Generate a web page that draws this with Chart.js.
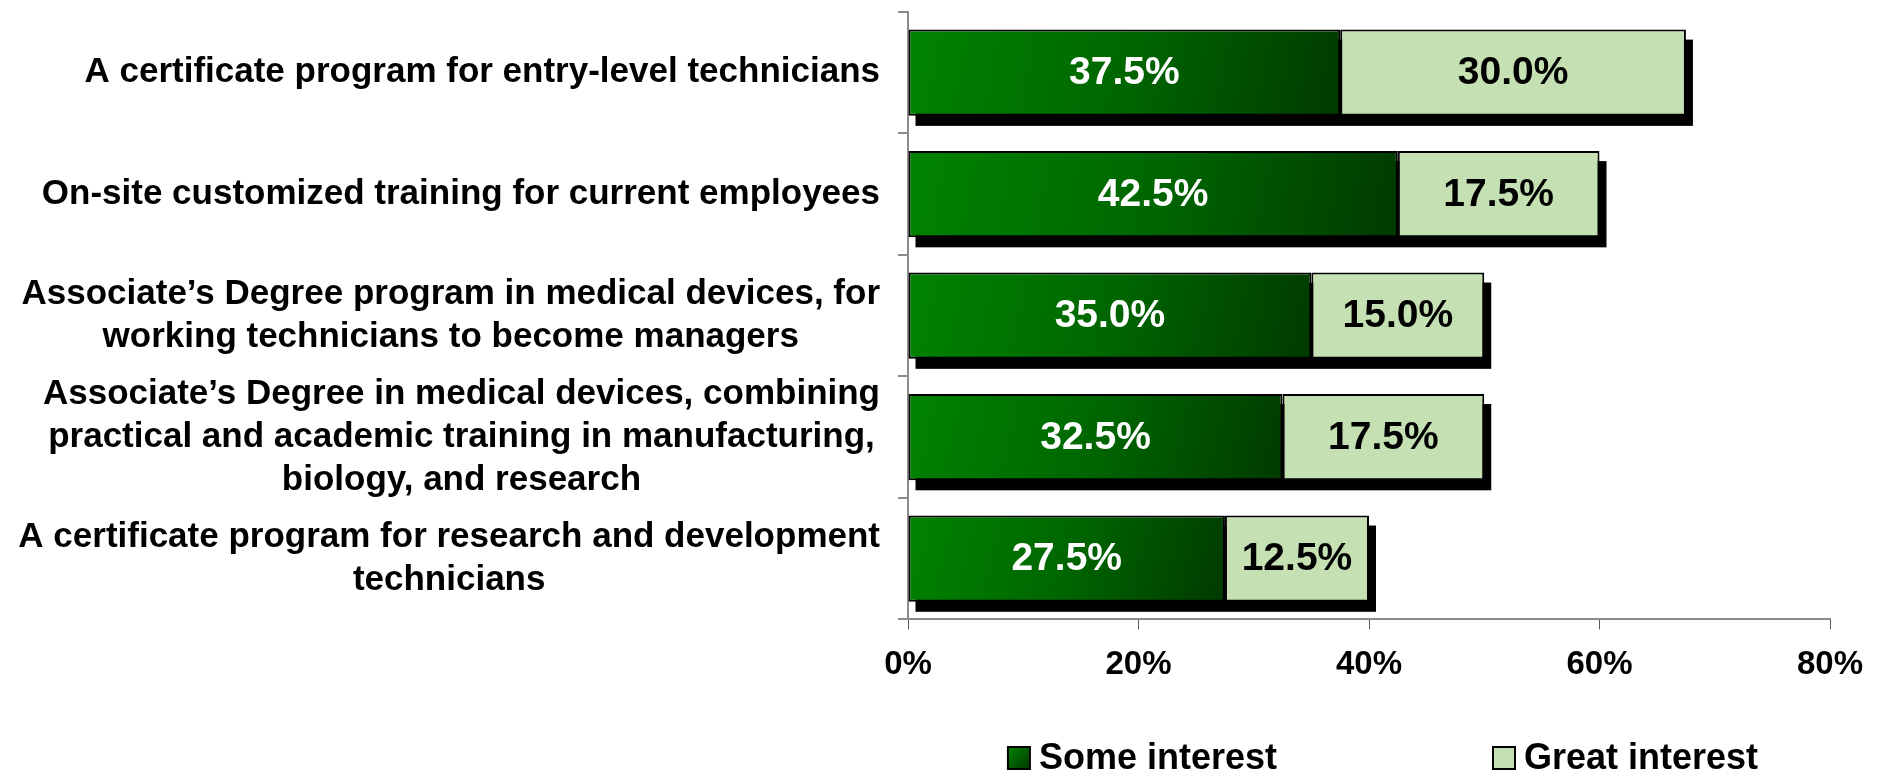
<!DOCTYPE html>
<html>
<head>
<meta charset="utf-8">
<script src="https://cdn.jsdelivr.net/npm/chart.js@4.4.1/dist/chart.umd.min.js"></script>
<style>
  html, body { margin: 0; padding: 0; background: #fff; }
  #wrap { width: 1881px; height: 775px; }
</style>
</head>
<body>
<div id="wrap"><canvas id="chart" width="1881" height="775"></canvas></div>
<script>
const categories = [
    ['A certificate program for entry-level technicians'],
    ['On-site customized training for current employees'],
    ['Associate’s Degree program in medical devices, for', 'working technicians to become managers'],
    ['Associate’s Degree in medical devices, combining', 'practical and academic training in manufacturing,', 'biology, and research'],
    ['A certificate program for research and development', 'technicians']
];
const seriesNames = ['Some interest', 'Great interest'];
const someInterest = [37.5, 42.5, 35.0, 32.5, 27.5];
const greatInterest = [30.0, 17.5, 15.0, 17.5, 12.5];
const xTicks = [0, 20, 40, 60, 80];

const FONT = "'Liberation Sans', Arial, sans-serif";
const LIGHT_GREEN = '#c5e0b2';

// dark green bars fade from green at top-left to almost black-green at bottom-right
function darkGreen(c) {
    const chart = c.chart;
    if (!chart.chartArea || c.type !== 'data') return '#006000';
    const xs = chart.scales.x, ys = chart.scales.y;
    const x0 = xs.getPixelForValue(0);
    const x1 = xs.getPixelForValue(c.raw);
    const yc = ys.getPixelForValue(c.dataIndex);
    const g = chart.ctx.createLinearGradient(x0, yc - 43, x1, yc + 43);
    g.addColorStop(0, '#008300');
    g.addColorStop(0.5, '#006600');
    g.addColorStop(1, '#003a00');
    return g;
}

const shadowPlugin = {
    id: 'barShadow',
    beforeDatasetsDraw(chart) {
        const ctx = chart.ctx;
        const first = chart.getDatasetMeta(0).data;
        const last = chart.getDatasetMeta(chart.data.datasets.length - 1).data;
        ctx.save();
        ctx.fillStyle = '#000';
        first.forEach((bar, i) => {
            const a = bar.getProps(['y', 'base', 'height'], true);
            const b = last[i].getProps(['x'], true);
            ctx.fillRect(a.base + 7, a.y - a.height / 2 + 10, b.x - a.base, a.height);
        });
        ctx.restore();
    }
};

const valueLabels = {
    id: 'valueLabels',
    afterDatasetsDraw(chart) {
        const ctx = chart.ctx;
        ctx.save();
        ctx.font = 'bold 39px ' + FONT;
        ctx.textAlign = 'center';
        ctx.textBaseline = 'middle';
        chart.data.datasets.forEach((ds, di) => {
            ctx.fillStyle = di === 0 ? '#fff' : '#000';
            chart.getDatasetMeta(di).data.forEach((bar, i) => {
                const p = bar.getProps(['x', 'y', 'base'], true);
                ctx.fillText(ds.data[i].toFixed(1) + '%', (p.x + p.base) / 2, p.y + 1);
            });
        });
        ctx.restore();
    }
};

// category labels: each label block right aligned, its lines centred
const categoryLabels = {
    id: 'categoryLabels',
    afterDraw(chart) {
        const ctx = chart.ctx;
        const ys = chart.scales.y;
        const lineH = 43;
        ctx.save();
        ctx.font = 'bold 35px ' + FONT;
        ctx.fillStyle = '#000';
        ctx.textAlign = 'center';
        ctx.textBaseline = 'middle';
        categories.forEach((lines, i) => {
            const widest = Math.max(...lines.map(l => ctx.measureText(l).width));
            const cx = ys.right - 28 - widest / 2;
            const cy = ys.getPixelForTick(i);
            lines.forEach((l, k) => {
                ctx.fillText(l, cx, cy + (k - (lines.length - 1) / 2) * lineH);
            });
        });
        ctx.restore();
    }
};

const legendPlugin = {
    id: 'boxLegend',
    afterDraw(chart) {
        const ctx = chart.ctx;
        const area = chart.chartArea;
        const box = 22, gap = 9, spacing = 216;
        ctx.save();
        ctx.font = 'bold 36px ' + FONT;
        ctx.textBaseline = 'middle';
        ctx.textAlign = 'left';
        const widths = seriesNames.map(n => box + gap + ctx.measureText(n).width);
        const total = widths.reduce((s, w) => s + w, 0) + spacing * (seriesNames.length - 1);
        let x = (area.left + area.right) / 2 + 14 - total / 2;
        const y = 758;
        seriesNames.forEach((name, i) => {
            if (i === 0) {
                const g = ctx.createLinearGradient(x, y - 11, x + box, y + 11);
                g.addColorStop(0, '#008300');
                g.addColorStop(1, '#003a00');
                ctx.fillStyle = g;
            } else {
                ctx.fillStyle = LIGHT_GREEN;
            }
            ctx.fillRect(x, y - 11, box, 22);
            ctx.lineWidth = 2;
            ctx.strokeStyle = '#000';
            ctx.strokeRect(x, y - 11, box, 22);
            ctx.fillStyle = '#000';
            ctx.fillText(name, x + box + gap, y + 1);
            x += widths[i] + spacing;
        });
        ctx.restore();
    }
};

new Chart(document.getElementById('chart'), {
    type: 'bar',
    data: {
        labels: categories,
        datasets: [
            {
                label: seriesNames[0],
                data: someInterest,
                backgroundColor: darkGreen,
                borderColor: '#000',
                borderWidth: 2,
                borderSkipped: false
            },
            {
                label: seriesNames[1],
                data: greatInterest,
                backgroundColor: LIGHT_GREEN,
                borderColor: '#000',
                borderWidth: 2,
                borderSkipped: false
            }
        ]
    },
    options: {
        indexAxis: 'y',
        responsive: false,
        animation: false,
        barPercentage: 0.71,
        categoryPercentage: 1,
        layout: { padding: { top: 12, right: 51, bottom: 74, left: 0 } },
        plugins: {
            legend: { display: false },
            tooltip: { enabled: false }
        },
        scales: {
            x: {
                stacked: true,
                min: xTicks[0],
                max: xTicks[xTicks.length - 1],
                ticks: {
                    stepSize: 20,
                    padding: 16,
                    color: '#000',
                    font: { family: FONT, size: 33, weight: 'bold' },
                    callback: v => v + '%'
                },
                grid: {
                    drawOnChartArea: false,
                    tickLength: 10,
                    color: '#555'
                },
                border: { color: '#8c8c8c', width: 2 }
            },
            y: {
                stacked: true,
                afterFit(scale) { scale.width = 908; },
                ticks: { display: false, autoSkip: false },
                grid: {
                    drawOnChartArea: false,
                    drawTicks: true,
                    tickLength: 10,
                    color: '#8c8c8c',
                    lineWidth: 2
                },
                border: { color: '#8c8c8c', width: 2 }
            }
        }
    },
    plugins: [shadowPlugin, valueLabels, categoryLabels, legendPlugin]
});
</script>
</body>
</html>
